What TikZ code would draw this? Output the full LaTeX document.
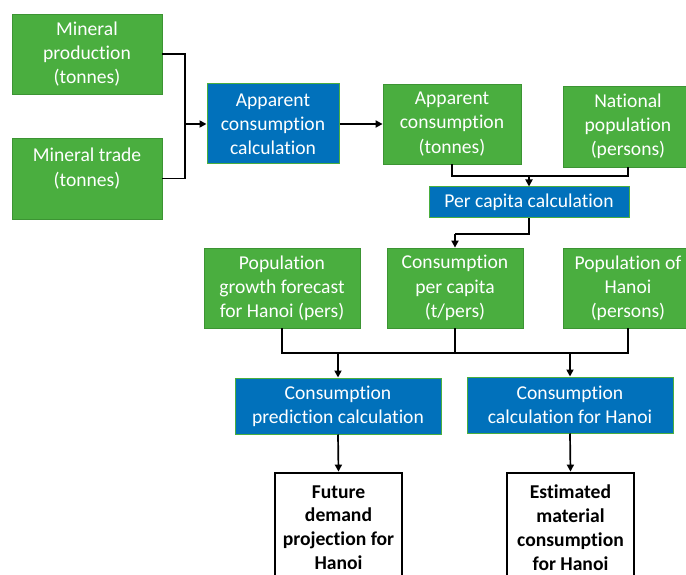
\documentclass[tikz,border=0pt]{standalone}
\usepackage{fontspec}
\setmainfont{Carlito}[Ligatures=NoCommon]
\usetikzlibrary{arrows.meta}
\definecolor{gfill}{HTML}{4AAE3F}
\definecolor{gedge}{HTML}{3C9433}
\definecolor{bfill}{HTML}{0171BB}
\tikzset{
  basebox/.style={rectangle, inner sep=0pt, align=center, font=\fontsize{19.6}{24.2}\selectfont},
  gbox/.style={basebox, fill=gfill, draw=gedge, line width=0.8pt, text=white},
  bbox/.style={basebox, fill=bfill, draw=gfill, line width=1pt, text=white},
  wbox/.style={basebox, fill=white, draw=black, line width=2.8pt, text=black, font=\fontsize{19.6}{23.8}\selectfont\bfseries},
  txt/.style={inner sep=0pt, align=center, text=white, font=\fontsize{19.6}{24.2}\selectfont},
  conn/.style={line width=1.7pt, black},
  arr/.style={conn, -{Triangle[length=7pt,width=7pt]}}
}
\begin{document}
\begin{tikzpicture}[x=1pt,y=-1pt]
\useasboundingbox[fill=white] (0,0) rectangle (686,575);
% row 1
\node[gbox, minimum width=150pt, minimum height=80pt] (mp) at (87,54) {Mineral\\production\\(tonnes)};
\node[gbox, minimum width=150pt, minimum height=81pt] (mt) at (87,178.5) {};
\node[txt] (mtt) at (87,168.5) {Mineral trade\\(tonnes)};
\node[bbox, minimum width=132pt, minimum height=80pt] (acc) at (273,124) {Apparent\\consumption\\calculation};
\node[gbox, minimum width=138pt, minimum height=80pt] (act) at (452,124) {Apparent\\consumption\\(tonnes)};
\node[gbox, minimum width=130pt, minimum height=81pt] (np) at (628,126.5) {National\\population\\(persons)};
\node[bbox, minimum width=200pt, minimum height=31pt] (pcc) at (529,202.5) {Per capita calculation};
% row 2
\node[gbox, minimum width=156pt, minimum height=80pt] (pgf) at (282,288) {Population\\growth forecast\\for Hanoi (pers)};
\node[gbox, minimum width=136pt, minimum height=80pt] (cpc) at (455,288) {Consumption\\per capita\\(t/pers)};
\node[gbox, minimum width=130pt, minimum height=80pt] (poh) at (628,288) {Population of\\Hanoi\\(persons)};
\node[bbox, minimum width=206pt, minimum height=56pt] (cpred) at (338,406) {Consumption\\prediction calculation};
\node[bbox, minimum width=206pt, minimum height=56pt] (cch) at (570,405) {Consumption\\calculation for Hanoi};
\node[wbox, minimum width=127pt, minimum height=109pt] (fdp) at (338.5,527.5) {Future\\demand\\projection for\\Hanoi};
\node[wbox, minimum width=127pt, minimum height=109pt] (ech) at (570.5,527.5) {Estimated\\material\\consumption\\for Hanoi};
% junctions
\coordinate (j1) at (185,124);
\coordinate (j2) at (529,176);
\coordinate (j3) at (455,234);
\coordinate (j5) at (455,353);
% connectors
\draw[conn] (mp.east) -| (j1) |- (mt.east);
\draw[arr] (j1) -- (acc.west);
\draw[arr] (acc.east) -- (act.west);
\draw[conn] (act.south) |- (j2) -| (np.south);
\draw[arr] (j2) -- (pcc.north);
\draw[conn] (pcc.south) |- (j3);
\draw[arr] (j3) -- (cpc.north);
\draw[conn] (pgf.south) |- (j5) -| (poh.south);
\draw[conn] (cpc.south) -- (j5);
\draw[arr] (cpred.north |- j5) -- (cpred.north);
\draw[arr] (cch.north |- j5) -- (cch.north);
\draw[arr] (cpred.south) -- (fdp.north);
\draw[arr] (cch.south) -- (ech.north);
\end{tikzpicture}
\end{document}
